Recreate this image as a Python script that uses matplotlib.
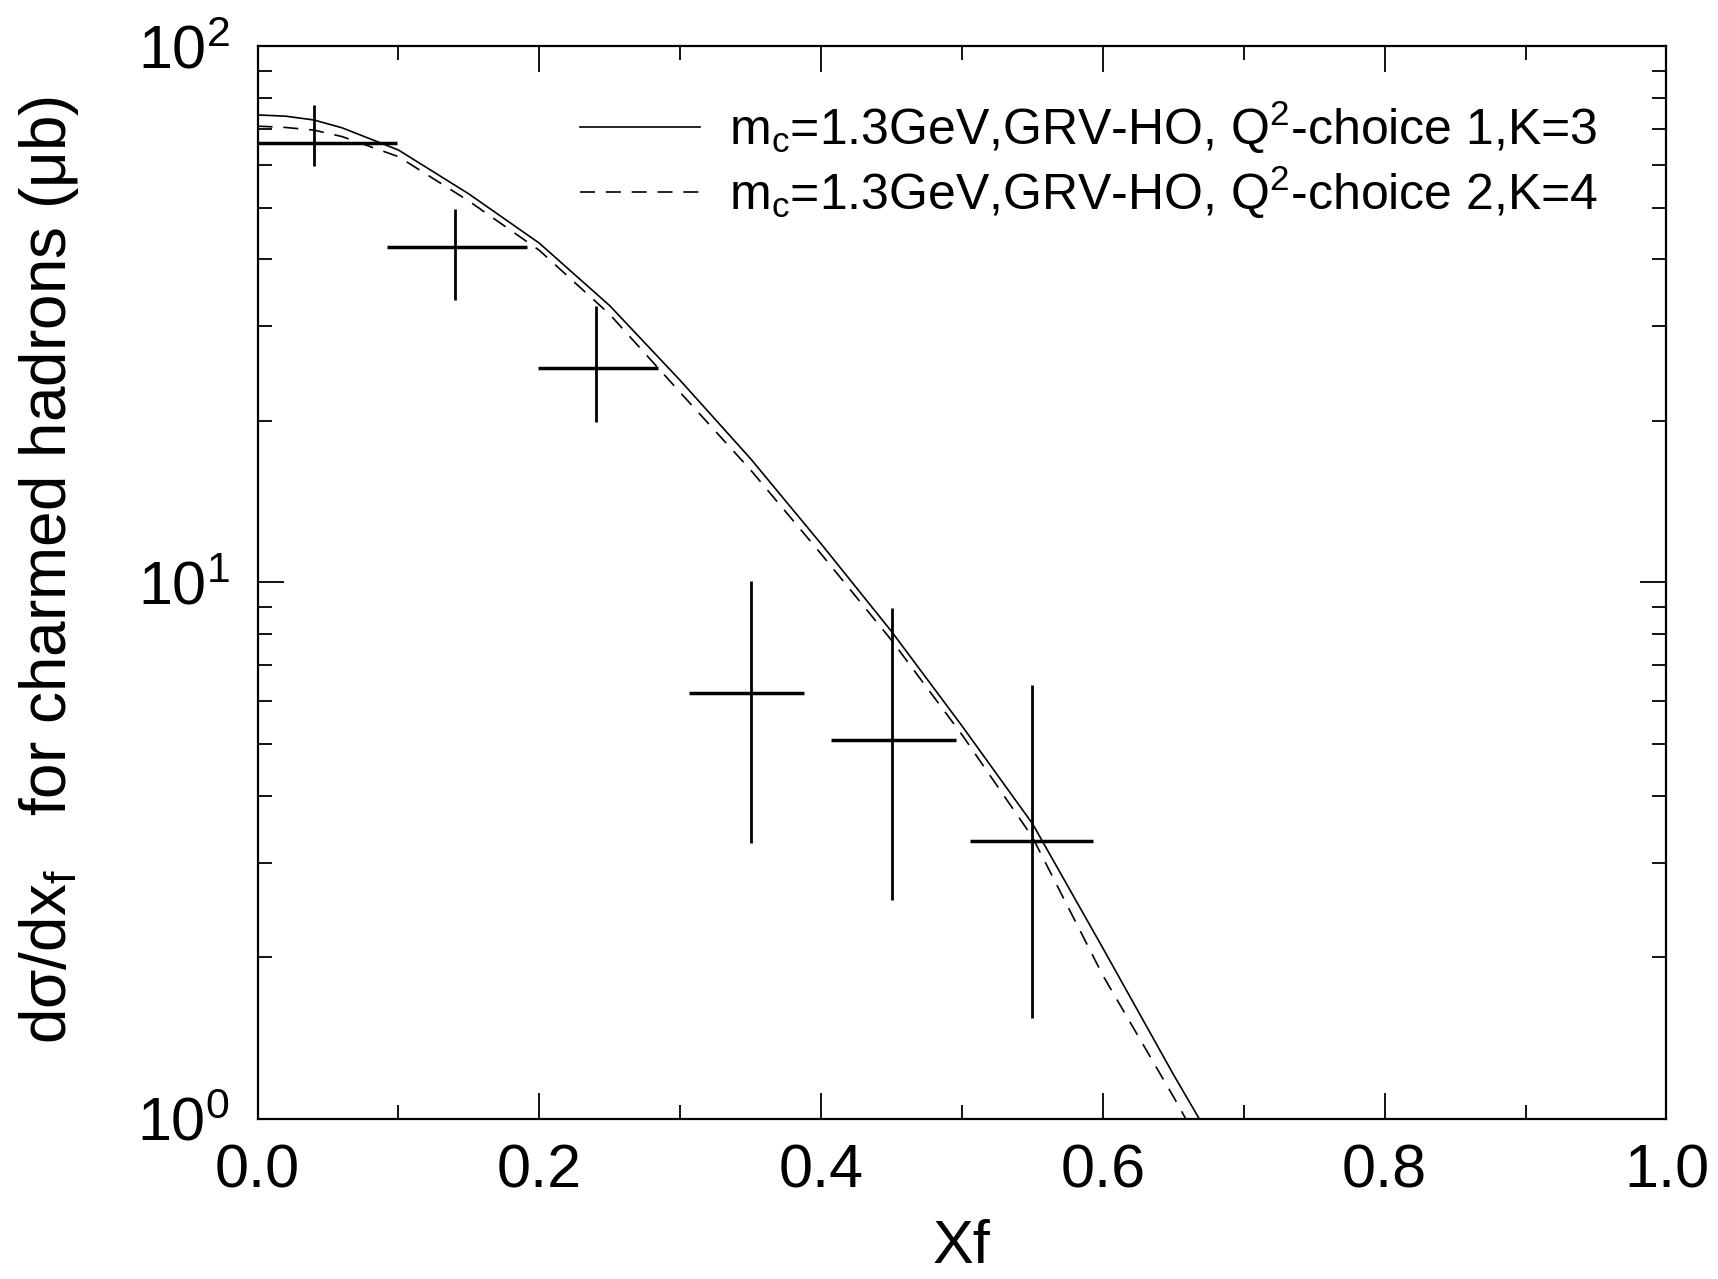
import math
import matplotlib
matplotlib.use("Agg")
import matplotlib.pyplot as plt
from matplotlib.ticker import MultipleLocator, FixedLocator, FuncFormatter, LogLocator, NullFormatter
from matplotlib.lines import Line2D

# Data
xf_data = [0.04, 0.14, 0.24, 0.35, 0.45, 0.55]
sigma_data = [65.9, 42.2, 25.1, 6.21, 5.08, 3.29]
sigma_hi = [77.6, 49.6, 32.8, 10.06, 8.95, 6.44]
sigma_lo = [59.8, 33.6, 19.9, 3.27, 2.56, 1.54]
xf_lo = [0.0, 0.092, 0.199, 0.306, 0.407, 0.506]
xf_hi = [0.099, 0.191, 0.284, 0.388, 0.496, 0.593]

xf_curve = [0.0, 0.02, 0.04, 0.06, 0.10, 0.15, 0.20, 0.25, 0.30, 0.35, 0.40,
            0.45, 0.50, 0.55, 0.60, 0.65, 0.70]
sigma_choice1 = [74.4, 74.0, 72.8, 70.4, 64.0, 53.0, 42.9, 32.8, 23.8, 17.0,
                 11.8, 8.1, 5.4, 3.55, 2.08, 1.21, 0.72]
sigma_choice2 = [70.9, 70.5, 69.7, 67.8, 62.2, 51.4, 41.6, 31.6, 22.6, 16.2,
                 11.3, 7.8, 5.2, 3.35, 1.85, 1.10, 0.64]

label1 = r"m$_\mathregular{c}$=1.3GeV,GRV-HO, Q$^\mathregular{2}$-choice 1,K=3"
label2 = r"m$_\mathregular{c}$=1.3GeV,GRV-HO, Q$^\mathregular{2}$-choice 2,K=4"

plt.rcParams["font.family"] = ["Liberation Sans", "DejaVu Sans"]
plt.rcParams["mathtext.fontset"] = "custom"
plt.rcParams["mathtext.rm"] = "Liberation Sans"
plt.rcParams["mathtext.sf"] = "Liberation Sans"

DASH = (0, (9, 6.5))

fig = plt.figure(figsize=(17.18, 12.79), dpi=100)
ax = fig.add_axes([0.1499, 0.1253, 0.8201, 0.8387])

ax.plot(xf_curve, sigma_choice1, color="black", lw=1.2, ls="-")
ax.plot(xf_curve, sigma_choice2, color="black", lw=1.2, ls=DASH)

# data points: horizontal and vertical bars drawn separately
xerr = [[x - lo for x, lo in zip(xf_data, xf_lo)],
        [hi - x for x, hi in zip(xf_data, xf_hi)]]
yerr = [[y - lo for y, lo in zip(sigma_data, sigma_lo)],
        [hi - y for y, hi in zip(sigma_data, sigma_hi)]]
ax.errorbar(xf_data, sigma_data, xerr=xerr, fmt="none", ecolor="black",
            elinewidth=2.5, capsize=0)
ax.errorbar(xf_data, sigma_data, yerr=yerr, fmt="none", ecolor="black",
            elinewidth=2.0, capsize=0)

ax.set_yscale("log")
ax.set_xlim(0, 1.0)
ax.set_ylim(1, 100)

ax.xaxis.set_major_locator(MultipleLocator(0.2))
ax.xaxis.set_minor_locator(MultipleLocator(0.1))
ax.xaxis.set_major_formatter(FuncFormatter(lambda v, p: f"{v:.1f}"))
ax.yaxis.set_major_locator(FixedLocator([1, 10, 100]))
ax.yaxis.set_minor_locator(LogLocator(base=10, subs=range(2, 10)))
ax.yaxis.set_minor_formatter(NullFormatter())
ax.yaxis.set_major_formatter(FuncFormatter(
    lambda v, p: r"$\mathregular{10^{%d}}$" % round(math.log10(v))))

ax.tick_params(which="both", direction="in", top=True, right=True,
               width=1.3, labelsize=44)
ax.tick_params(which="major", length=19)
ax.tick_params(which="minor", length=10)
ax.tick_params(axis="x", pad=18)
ax.tick_params(axis="y", pad=20)
for s in ax.spines.values():
    s.set_linewidth(1.6)

ax.set_xlabel("Xf", fontsize=44, labelpad=13)
ax.set_ylabel(r"dσ/dx$_\mathsf{f}$   for charmed hadrons (μb)", fontsize=46)
ax.yaxis.set_label_coords(-0.1255, 0.512)

handles = [Line2D([], [], color="black", lw=1.2, ls="-"),
           Line2D([], [], color="black", lw=1.2, ls=DASH)]
ax.legend(handles, [label1, label2], loc="upper left",
          bbox_to_anchor=(0.229, 0.951), frameon=False, fontsize=36,
          borderpad=0, borderaxespad=0,
          handlelength=2.4, handletextpad=0.58, labelspacing=0.16)

fig.savefig("out.png", dpi=100)
